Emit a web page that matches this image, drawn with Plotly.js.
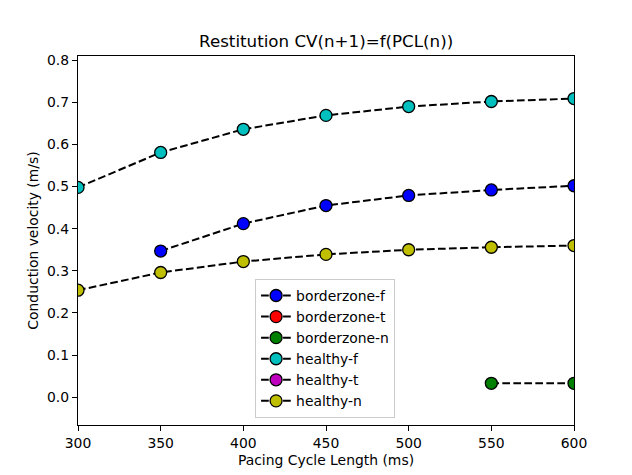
<!DOCTYPE html>
<html>
<head>
<meta charset="utf-8">
<script src="https://cdn.plot.ly/plotly-3.0.1.min.js"></script>
<style>html,body{margin:0;padding:0;background:#fff;}#chart{width:632px;height:475px;}</style>
</head>
<body>
<div id="chart"></div>
<script>
const pcl = [300, 350, 400, 450, 500, 550, 600];
const borderzoneF = [null, 0.347, 0.412, 0.455, 0.479, 0.492, 0.502];
const borderzoneT = [null, null, null, null, null, null, null];
const borderzoneN = [null, null, null, null, null, 0.033, 0.033];
const healthyF = [0.498, 0.581, 0.636, 0.669, 0.690, 0.702, 0.709];
const healthyT = [null, null, null, null, null, null, null];
const healthyN = [0.254, 0.296, 0.322, 0.339, 0.350, 0.356, 0.360];

const seriesNames = ['borderzone-f', 'borderzone-t', 'borderzone-n', 'healthy-f', 'healthy-t', 'healthy-n'];
const seriesValues = [borderzoneF, borderzoneT, borderzoneN, healthyF, healthyT, healthyN];
const seriesColors = ['#0000ff', '#ff0000', '#008000', '#00bfbf', '#bf00bf', '#bfbf00'];

const traces = seriesNames.map((name, i) => ({
  x: pcl,
  y: seriesValues[i],
  name: name,
  type: 'scatter',
  mode: 'lines+markers',
  connectgaps: false,
  line: {color: '#000000', width: 2, dash: '7.7px,3.3px'},
  marker: {color: seriesColors[i], size: 12, line: {color: '#000000', width: 1.3}}
}));

const axisCommon = {
  showline: true, mirror: true, linecolor: '#000', linewidth: 1.1,
  ticks: 'outside', ticklen: 5, tickwidth: 1, tickcolor: '#000',
  showgrid: false, zeroline: false,
  tickfont: {family: 'DejaVu Sans', size: 13.9, color: '#000'}
};

const layout = {
  width: 632, height: 475,
  margin: {l: 78, r: 58, t: 56, b: 50},
  paper_bgcolor: '#fff', plot_bgcolor: '#fff',
  font: {family: 'DejaVu Sans', color: '#000'},
  title: {text: 'Restitution CV(n+1)=f(PCL(n))', font: {family: 'DejaVu Sans', size: 16.7, color: '#000'}, x: 0.516, xanchor: 'center', y: 0.913, yanchor: 'middle'},
  xaxis: Object.assign({}, axisCommon, {
    range: [300, 600], tickvals: [300, 350, 400, 450, 500, 550, 600],
    title: {text: 'Pacing Cycle Length (ms)', font: {family: 'DejaVu Sans', size: 13.9, color: '#000'}, standoff: 5}
  }),
  yaxis: Object.assign({}, axisCommon, {
    range: [-0.066, 0.81], tickvals: [0, 0.1, 0.2, 0.3, 0.4, 0.5, 0.6, 0.7, 0.8], tickformat: '.1f',
    title: {text: 'Conduction velocity (m/s)', font: {family: 'DejaVu Sans', size: 13.9, color: '#000'}, standoff: 5}
  }),
  showlegend: true,
  legend: {
    x: 0.357, y: 0.019, xanchor: 'left', yanchor: 'bottom',
    bgcolor: 'rgba(255,255,255,0.8)', bordercolor: '#cccccc', borderwidth: 1,
    font: {family: 'DejaVu Sans', size: 13.9, color: '#000'},
    tracegroupgap: 0, itemwidth: 30
  }
};

Plotly.newPlot('chart', traces, layout, {displayModeBar: false, staticPlot: true});
</script>
</body>
</html>
